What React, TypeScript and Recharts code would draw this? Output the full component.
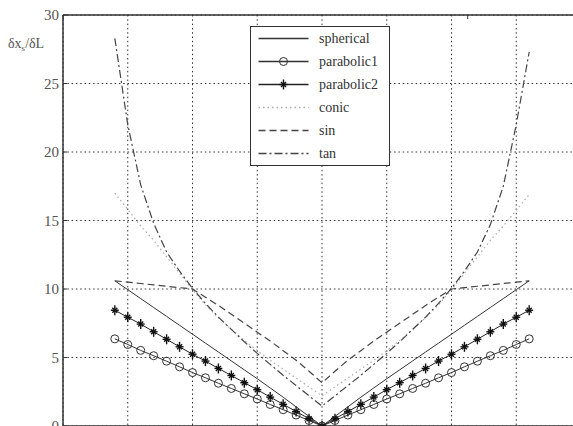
import React from "react";
import {
  LineChart,
  Line,
  XAxis,
  YAxis,
  CartesianGrid,
  Legend,
} from "recharts";

// angle samples (deg)
const angles = [
  -80, -75, -70, -65, -60, -55, -50, -45, -40, -35, -30, -25, -20, -15, -10, -5, 0,
  5, 10, 15, 20, 25, 30, 35, 40, 45, 50, 55, 60, 65, 70, 75, 80,
];

const spherical = [
  10.6, 9.95, 9.3, 8.65, 8.0, 7.35, 6.7, 6.05, 5.4, 4.75, 4.1, 3.45, 2.78, 2.1, 1.4, 0.7, 0,
  0.7, 1.4, 2.1, 2.78, 3.45, 4.1, 4.75, 5.4, 6.05, 6.7, 7.35, 8.0, 8.65, 9.3, 9.95, 10.6,
];
const parabolic1 = [
  6.36, 5.95, 5.52, 5.13, 4.73, 4.32, 3.9, 3.52, 3.12, 2.74, 2.35, 1.97, 1.57, 1.19, 0.8, 0.4, 0,
  0.4, 0.8, 1.19, 1.57, 1.97, 2.35, 2.74, 3.12, 3.52, 3.9, 4.32, 4.73, 5.13, 5.52, 5.95, 6.36,
];
const parabolic2 = [
  8.45, 7.94, 7.44, 6.88, 6.33, 5.78, 5.24, 4.74, 4.2, 3.69, 3.16, 2.65, 2.11, 1.58, 1.06, 0.53, 0,
  0.53, 1.06, 1.58, 2.11, 2.65, 3.16, 3.69, 4.2, 4.74, 5.24, 5.78, 6.33, 6.88, 7.44, 7.94, 8.45,
];
const conic = [
  17.0, 15.8, 14.6, 13.55, 12.35, 11.15, 9.95, 8.85, 7.9, 7.05, 6.25, 5.5, 4.8, 4.15, 3.5, 2.85, 2.2,
  2.85, 3.5, 4.15, 4.8, 5.5, 6.25, 7.05, 7.9, 8.85, 9.95, 11.15, 12.35, 13.55, 14.6, 15.75, 16.9,
];
const sin = [
  10.6, 10.5, 10.4, 10.3, 10.2, 10.1, 10.0, 9.4, 8.8, 8.15, 7.5, 6.85, 6.2, 5.5, 4.8, 4.0, 3.15,
  4.0, 4.8, 5.5, 6.2, 6.85, 7.5, 8.15, 8.8, 9.4, 10.0, 10.1, 10.2, 10.3, 10.4, 10.5, 10.6,
];
const tan = [
  28.3, 22.0, 17.6, 14.8, 12.7, 11.3, 10.05, 8.95, 7.95, 7.05, 6.15, 5.3, 4.5, 3.7, 2.95, 2.2, 1.45,
  2.2, 2.95, 3.7, 4.5, 5.3, 6.15, 7.05, 7.95, 8.95, 10.05, 11.3, 12.7, 14.7, 17.5, 22.0, 27.3,
];

const xTicks = [-100, -75, -50, -25, 0, 25, 50, 75, 100];
const yTicks = [0, 5, 10, 15, 20, 25, 30];

const data = angles.map((a, i) => ({
  angle: a,
  spherical: spherical[i],
  parabolic1: parabolic1[i],
  parabolic2: parabolic2[i],
  conic: conic[i],
  sin: sin[i],
  tan: tan[i],
}));

const SERIF = "'Times New Roman', 'Liberation Serif', 'DejaVu Serif', serif";

const CircleDot = (props: any) => {
  const { cx, cy } = props;
  if (cx == null || cy == null) return null;
  return <circle cx={cx} cy={cy} r={4} fill="none" stroke="#333" strokeWidth={1} />;
};

const StarDot = (props: any) => {
  const { cx, cy } = props;
  if (cx == null || cy == null) return null;
  return (
    <g stroke="#111" strokeWidth={1.4}>
      <line x1={cx - 4} y1={cy} x2={cx + 4} y2={cy} />
      <line x1={cx} y1={cy - 5} x2={cx} y2={cy + 5} />
      <line x1={cx - 2.5} y1={cy - 2.5} x2={cx + 2.5} y2={cy + 2.5} />
      <line x1={cx - 2.5} y1={cy + 2.5} x2={cx + 2.5} y2={cy - 2.5} />
    </g>
  );
};

const series = [
  { key: "spherical", stroke: "#333", dash: undefined, width: 1, marker: null },
  { key: "parabolic1", stroke: "#333", dash: undefined, width: 1, marker: "o" },
  { key: "parabolic2", stroke: "#222", dash: undefined, width: 1, marker: "*" },
  { key: "conic", stroke: "#aaa", dash: "1.5 3", width: 1.2, marker: null },
  { key: "sin", stroke: "#444", dash: "7 4", width: 1.2, marker: null },
  { key: "tan", stroke: "#444", dash: "8 3 2 3", width: 1.2, marker: null },
];

function LegendBox() {
  return (
    <div
      style={{
        width: 140,
        height: 140,
        boxSizing: "border-box",
        border: "1.5px solid #333",
        background: "#fff",
        fontFamily: SERIF,
        fontSize: 14,
        color: "#333",
      }}
    >
      {series.map((s) => (
        <div key={s.key} style={{ display: "flex", alignItems: "center", height: 23 }}>
          <svg width={68} height={23} style={{ flex: "none" }}>
            <line
              x1={7.5}
              x2={57.5}
              y1={11.5}
              y2={11.5}
              stroke={s.stroke}
              strokeWidth={s.width + 0.3}
              strokeDasharray={s.dash}
            />
            {s.marker === "o" && <CircleDot cx={32.5} cy={11.5} />}
            {s.marker === "*" && <StarDot cx={32.5} cy={11.5} />}
          </svg>
          <span style={{ lineHeight: "23px" }}>{s.key}</span>
        </div>
      ))}
    </div>
  );
}

const YLabel = (props: any) => {
  const vb = props.viewBox || { x: 0, y: 15 };
  return (
    <text x={vb.x + 8} y={vb.y + 33} style={{ fontFamily: SERIF }} fontSize={14} fill="#555">
      <tspan>δx</tspan>
      <tspan dy={3} fontSize={9}>s</tspan>
      <tspan dy={-3}>/δL</tspan>
    </text>
  );
};

export default function App() {
  return (
    <div
      style={{
        position: "fixed",
        left: 0,
        top: 0,
        width: 573,
        height: 426,
        overflow: "hidden",
        background: "#fff",
        fontFamily: SERIF,
      }}
    >
      <LineChart
        width={592}
        height={456}
        data={data}
        margin={{ top: 15, right: 11, bottom: 0, left: 0 }}
        style={{ fontFamily: SERIF }}
      >
        <CartesianGrid stroke="#333" strokeDasharray="1.5 2.8" />
        <XAxis
          dataKey="angle"
          type="number"
          domain={[-100, 100]}
          ticks={xTicks}
          allowDataOverflow
          height={30}
          tickLine={false}
          tickFormatter={() => ""}
          axisLine={{ stroke: "#333", strokeWidth: 1.5 }}
        />
        <XAxis
          xAxisId="top"
          orientation="top"
          type="number"
          domain={[-100, 100]}
          ticks={xTicks}
          allowDataOverflow
          mirror
          tickSize={4}
          tickFormatter={() => ""}
          tickLine={{ stroke: "#333" }}
          axisLine={{ stroke: "#333", strokeWidth: 1.5 }}
        />
        <YAxis
          type="number"
          domain={[0, 30]}
          ticks={yTicks}
          width={63}
          tickSize={0}
          tickMargin={4}
          tickLine={false}
          tick={{ style: { fontFamily: SERIF }, fontSize: 15, fill: "#555" }}
          axisLine={{ stroke: "#333", strokeWidth: 1.5 }}
          label={<YLabel />}
        />
        <YAxis
          yAxisId="frame"
          orientation="left"
          type="number"
          domain={[0, 30]}
          ticks={yTicks}
          allowDataOverflow
          mirror
          tickSize={4}
          tickFormatter={() => ""}
          tickLine={{ stroke: "#333" }}
          axisLine={false}
        />
        <Legend
          layout="vertical"
          align="center"
          verticalAlign="middle"
          content={() => <LegendBox />}
          wrapperStyle={{ position: "absolute", left: 250, top: 26, width: 140, height: 140 }}
        />
        {series.map((s) => (
          <Line
            key={s.key}
            dataKey={s.key}
            type="linear"
            stroke={s.stroke}
            strokeWidth={s.width}
            strokeDasharray={s.dash}
            dot={s.marker === "o" ? <CircleDot /> : s.marker === "*" ? <StarDot /> : false}
            activeDot={false}
            isAnimationActive={false}
          />
        ))}
      </LineChart>
    </div>
  );
}
